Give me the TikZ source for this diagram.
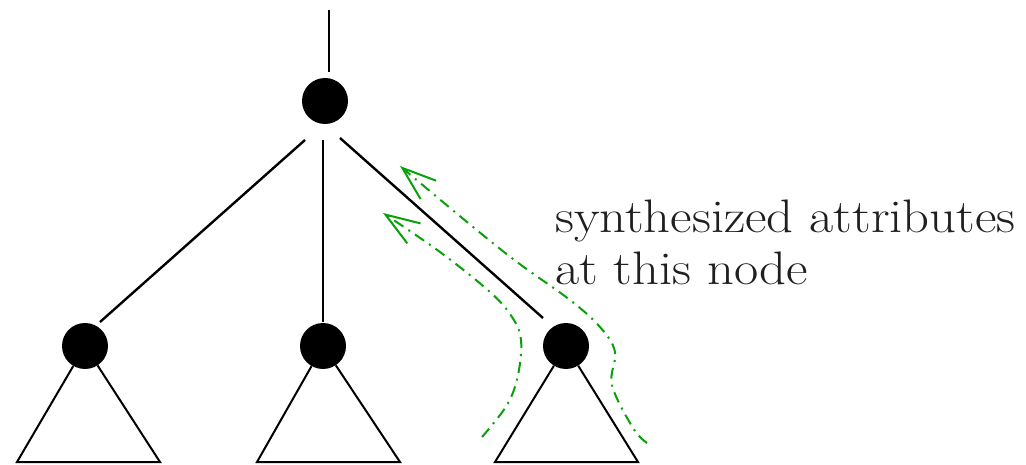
\documentclass[tikz,border=0pt]{standalone}
\usetikzlibrary{arrows.meta,calc}
\definecolor{annot}{RGB}{10,160,10}
\begin{document}
\begin{tikzpicture}[x=1pt,y=-1pt,
  dot/.style={circle,fill=black,minimum size=46pt,inner sep=0pt},
  edge/.style={line width=2.4pt},
  tri/.style={line width=2pt},
  flow/.style={annot,line width=2pt,dash pattern=on 11pt off 6pt on 2pt off 6pt,
    -{Straight Barb[length=34pt,width=24pt,line width=2pt]}},
  lab/.style={anchor=base west,inner sep=0pt,font=\fontsize{47}{56}\selectfont,text=black!88}]
\useasboundingbox (0,0) rectangle (1026,465);
\node[dot] (r) at (325,101) {};
\node[dot] (a) at (85,346) {};
\node[dot] (b) at (323,346) {};
\node[dot] (c) at (566,346) {};
\coordinate (top) at (329,10);
\draw[edge] (top) -- ($(r)+(4,-29)$);
\draw[edge] ($(r)+(-20,39)$) -- ($(a)+(15,-24)$);
\draw[edge] ($(r)+(-2,39)$) -- ($(b)+(0,-24)$);
\draw[edge] ($(r)+(15,37)$) -- ($(c)+(-23,-28)$);
\coordinate (al) at (17,462); \coordinate (ar) at (160,462);
\coordinate (bl) at (257,462); \coordinate (br) at (400,462);
\coordinate (cl) at (495,462); \coordinate (cr) at (638,462);
\draw[tri] (a) -- (al) -- (ar) -- (a);
\draw[tri] (b) -- (bl) -- (br) -- (b);
\draw[tri] (c) -- (cl) -- (cr) -- (c);
\draw[flow] plot[smooth,tension=0.6] coordinates {(647,443) (633,428) (612,385) (615,352) (600,327) (570,300) (517,262) (467,222) (400,166)};
\draw[flow] plot[smooth,tension=0.6] coordinates {(482,437) (507,405) (518,375) (521,340) (512,317) (490,292) (440,252) (383,213)};
\node[lab] (t1) at (555,233) {\scalebox{1.12}[1]{synthesized attributes}};
\node[lab] (t2) at (555,285) {\scalebox{1.12}[1]{at this node}};
\end{tikzpicture}
\end{document}
